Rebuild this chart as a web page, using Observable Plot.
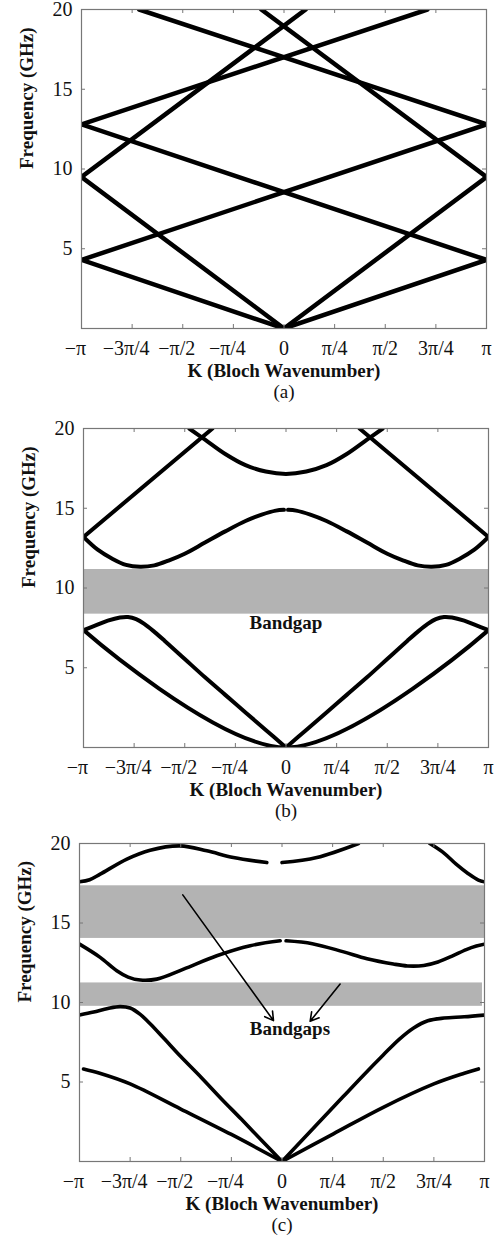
<!DOCTYPE html>
<html><head><meta charset="utf-8">
<script src="https://cdn.jsdelivr.net/npm/d3@7"></script>
<script src="https://cdn.jsdelivr.net/npm/@observablehq/plot@0.6"></script>
<style>
body{margin:0;background:#fff;width:503px;}
#chart svg{display:block;}
#chart svg, #chart svg text, #chart svg g {font-family: "Liberation Serif", Tinos, "Times New Roman", "DejaVu Serif", "Noto Serif", serif !important;}
</style></head><body><div id="chart"></div>
<script>
// Axis ticks (K in units of π)
const xTicks = [-1, -0.75, -0.5, -0.25, 0, 0.25, 0.5, 0.75, 1];
const xTickLabels = ["−π", "−3π/4", "−π/2", "−π/4", "0", "π/4", "π/2", "3π/4", "π"];
const yTicks = [5, 10, 15, 20];
const yLabel = "Frequency (GHz)";
const xLabel = "K (Bloch Wavenumber)";
const captions = ["(a)", "(b)", "(c)"];

// Panel (a): [K/π, f GHz]
const aLine1 = [[-1, 4.3], [0, 0], [1, 4.3]];
const aLine2 = [[-1, 9.5], [0, 0], [1, 9.5]];
const aLine3 = [[-1, 4.3], [1, 12.8]];
const aLine4 = [[1, 4.3], [-1, 12.8]];
const aLine5 = [[-1, 9.5], [0.107, 20]];
const aLine6 = [[1, 9.5], [-0.112, 20]];
const aLine7 = [[-1, 12.8], [0.708, 20]];
const aLine8 = [[1, 12.8], [-0.715, 20]];

// Panel (b)
const bBand1 = [[-1, 7.36], [0, 0], [1, 7.36]];
const bBand2Left = [[-1, 7.36], [-0.94, 7.65], [-0.88, 7.95], [-0.82, 8.15], [-0.78, 8.18], [-0.74, 8.05], [-0.7, 7.75], [-0.65, 7.25], [-0.6, 6.7], [-0.5, 5.55], [-0.4, 4.4], [-0.3, 3.3], [-0.2, 2.2], [-0.1, 1.1], [0, 0]];
const bBand2Right = [[0, 0], [0.1, 1.1], [0.2, 2.2], [0.3, 3.3], [0.4, 4.4], [0.5, 5.55], [0.6, 6.7], [0.65, 7.25], [0.7, 7.75], [0.74, 8.05], [0.78, 8.18], [0.82, 8.15], [0.88, 7.95], [0.94, 7.65], [1, 7.36]];
const bBand3Left = [[-1, 13.2], [-0.93, 12.4], [-0.86, 11.85], [-0.79, 11.45], [-0.72, 11.33], [-0.65, 11.42], [-0.58, 11.72], [-0.5, 12.15], [-0.4, 12.85], [-0.3, 13.55], [-0.2, 14.2], [-0.12, 14.6], [-0.05, 14.85], [-0.01, 14.9]];
const bBand3Right = [[0.01, 14.9], [0.05, 14.85], [0.12, 14.6], [0.2, 14.2], [0.3, 13.55], [0.4, 12.85], [0.5, 12.15], [0.58, 11.72], [0.65, 11.42], [0.72, 11.33], [0.79, 11.45], [0.86, 11.85], [0.93, 12.4], [1, 13.2]];
const bBand4Left = [[-1, 13.2], [-0.363, 20]];
const bBand4Right = [[1, 13.2], [0.363, 20]];
const bBand5 = [[-0.478, 20], [-0.4, 19.3], [-0.3, 18.4], [-0.2, 17.7], [-0.1, 17.3], [0, 17.15], [0.1, 17.3], [0.2, 17.7], [0.3, 18.4], [0.4, 19.3], [0.478, 20]];
const bGaps = [{k1: -1, k2: 1, f1: 8.36, f2: 11.16}];
const bNotes = [{k: 0, f: 7.84, t: "Bandgap"}];

// Panel (c)
const cBand1Left = [[-0.98, 5.82], [-0.9, 5.55], [-0.75, 4.88], [-0.5, 3.3], [-0.25, 1.7], [0, 0]];
const cBand1Right = [[0, 0], [0.254, 1.74], [0.5, 3.41], [0.75, 4.88], [0.9, 5.55], [0.97, 5.82]];
const cBand2Left = [[-1, 9.21], [-0.93, 9.4], [-0.86, 9.62], [-0.8, 9.74], [-0.75, 9.65], [-0.7, 9.25], [-0.65, 8.65], [-0.58, 7.7], [-0.5, 6.6], [-0.4, 5.3], [-0.3, 3.95], [-0.2, 2.65], [-0.1, 1.32], [0, 0]];
const cBand2Right = [[0, 0], [0.1, 1.35], [0.2, 2.7], [0.3, 4.05], [0.4, 5.4], [0.5, 6.7], [0.58, 7.7], [0.65, 8.4], [0.72, 8.85], [0.8, 9.02], [0.9, 9.1], [1, 9.21]];
const cBand3Left = [[-1, 13.67], [-0.898, 12.84], [-0.816, 12.0], [-0.76, 11.6], [-0.7, 11.41], [-0.618, 11.47], [-0.486, 12.1], [-0.322, 12.94], [-0.157, 13.57], [-0.009, 13.88]];
const cBand3Right = [[0.02, 13.88], [0.15, 13.7], [0.3, 13.2], [0.42, 12.75], [0.55, 12.42], [0.62, 12.3], [0.7, 12.33], [0.77, 12.55], [0.84, 12.92], [0.91, 13.33], [0.96, 13.55], [1, 13.67]];
const cBand4Left = [[-1, 17.59], [-0.95, 17.72], [-0.898, 18.07], [-0.766, 19.02], [-0.651, 19.58], [-0.503, 19.85], [-0.371, 19.54], [-0.24, 19.12], [-0.075, 18.8]];
const cBand4Right = [[0.0, 18.8], [0.172, 19.12], [0.378, 20]];
const cBand5 = [[0.73, 20], [0.8, 19.4], [0.86, 18.7], [0.92, 18.1], [0.97, 17.7], [1, 17.59]];
const cGaps = [{k1: -1, k2: 1, f1: 14.03, f2: 17.34}, {k1: -1, k2: 0.99, f1: 9.76, f2: 11.23}];
const cNotes = [{k: 0.039, f: 8.31, t: "Bandgaps"}];
const cArrows = [{k1: -0.49, f1: 16.77, k2: -0.042, f2: 8.86}, {k1: 0.287, f1: 11.16, k2: 0.139, f2: 8.82}];

const fmtX = d => xTickLabels[xTicks.indexOf(d)];
const FONT = "Liberation Serif, Tinos, Times New Roman, DejaVu Serif, serif";

function panel({curves, gaps = [], notes = [], arrows = [], caption, height, mt, mb, ml, mr, lw, curve}) {
  const fw = 503 - ml - mr, fh = height - mt - mb;
  const tickStroke = "#777";
  return Plot.plot({
    width: 503, height,
    marginTop: mt, marginBottom: mb, marginLeft: ml, marginRight: mr,
    style: {fontFamily: FONT, fontSize: "20px", background: "white", color: "#111", overflow: "visible"},
    x: {domain: [-1, 1]},
    y: {domain: [0, 20]},
    marks: [
      Plot.rect(gaps, {x1: "k1", x2: "k2", y1: "f1", y2: "f2", fill: "#b3b3b3"}),
      ...curves.map(c => Plot.line(c, {x: d => d[0], y: d => d[1], stroke: "#000", strokeWidth: lw, curve, clip: true})),
      Plot.frame({stroke: "#777", strokeWidth: 1.2}),
      Plot.tickX(xTicks, {x: d => d, insetTop: fh - 4, stroke: tickStroke}),
      Plot.tickX(xTicks, {x: d => d, insetBottom: fh - 4, stroke: tickStroke}),
      Plot.tickY(yTicks, {y: d => d, insetRight: fw - 4, stroke: tickStroke}),
      Plot.tickY(yTicks, {y: d => d, insetLeft: fw - 4, stroke: tickStroke}),
      Plot.arrow(arrows, {x1: "k1", y1: "f1", x2: "k2", y2: "f2", stroke: "#000", strokeWidth: 1.6, headLength: 9}),
      Plot.text(notes, {x: "k", y: "f", text: "t", fontWeight: "bold", fontSize: 19, fill: "#111", fontFamily: FONT}),
      Plot.axisX(xTicks.filter(d => d < 0), {tickSize: 0, tickPadding: 12.5, dx: -6, tickFormat: fmtX, label: null, fontFamily: FONT}),
      Plot.axisX(xTicks.filter(d => d >= 0), {tickSize: 0, tickPadding: 12.5, tickFormat: fmtX, label: null, fontFamily: FONT}),
      Plot.axisY(yTicks, {tickSize: 0, tickPadding: 9, tickFormat: d => String(d), label: null, fontFamily: FONT}),
      Plot.text([yLabel], {text: d => d, frameAnchor: "left", dx: -55, rotate: -90, fontWeight: "bold", fontSize: 19, fontFamily: FONT}),
      Plot.text([xLabel], {text: d => d, frameAnchor: "bottom", dy: 48, fontWeight: "bold", fontSize: 19, fontFamily: FONT}),
      Plot.text([caption], {text: d => d, frameAnchor: "bottom", dy: 69, fontSize: 19, fontFamily: FONT})
    ]
  });
}

const root = document.getElementById("chart");
root.append(panel({
  curves: [aLine1, aLine2, aLine3, aLine4, aLine5, aLine6, aLine7, aLine8],
  caption: captions[0], height: 419, mt: 9, mb: 91, ml: 81, mr: 17, lw: 4.5, curve: "linear"
}));
root.append(panel({
  curves: [bBand1, bBand2Left, bBand2Right, bBand3Left, bBand3Right, bBand4Left, bBand4Right, bBand5],
  gaps: bGaps, notes: bNotes,
  caption: captions[1], height: 414, mt: 9, mb: 86, ml: 83, mr: 15, lw: 4, curve: "catmull-rom"
}));
root.append(panel({
  curves: [cBand1Left, cBand1Right, cBand2Left, cBand2Right, cBand3Left, cBand3Right, cBand4Left, cBand4Right, cBand5],
  gaps: cGaps, notes: cNotes, arrows: cArrows,
  caption: captions[2], height: 409, mt: 10, mb: 81, ml: 79, mr: 19, lw: 3.6, curve: "catmull-rom"
}));
</script></body></html>
